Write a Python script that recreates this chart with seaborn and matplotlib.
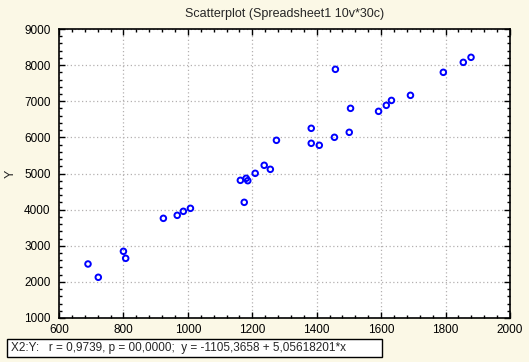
import numpy as np
import pandas as pd
import matplotlib
matplotlib.use('Agg')
import matplotlib.pyplot as plt
import seaborn as sns
from matplotlib.patches import Rectangle
from matplotlib.ticker import MultipleLocator

x_vals = [690, 722, 800, 807, 924, 967, 986, 1008, 1163, 1175, 1181, 1186, 1209, 1237,
          1256, 1275, 1383, 1383, 1408, 1455, 1458, 1501, 1505, 1592, 1616, 1632, 1691,
          1793, 1855, 1879]
y_vals = [2495, 2127, 2846, 2652, 3759, 3842, 3953, 4036, 4811, 4202, 4867, 4801, 5005, 5227,
          5116, 5919, 6251, 5836, 5781, 6002, 7884, 6140, 6804, 6721, 6887, 7023, 7164,
          7801, 8077, 8216]
title = 'Scatterplot (Spreadsheet1 10v*30c)'
stats_text = 'X2:Y:   r = 0,9739, p = 00,0000;  y = -1105,3658 + 5,05618201*x'

df = pd.DataFrame({'X2': x_vals, 'Y': y_vals})

sns.set_style('white')
plt.rcParams['font.family'] = ['Liberation Sans', 'DejaVu Sans']

bg = '#fbf8e6'
fig = plt.figure(figsize=(5.29, 3.62), dpi=100, facecolor=bg)
ax = fig.add_axes([59/529, 1 - 318/362, 451/529, 289/362])
ax.set_facecolor('white')

sns.scatterplot(data=df, x='X2', y='Y', ax=ax, marker='o', s=16,
                facecolor='none', edgecolor='#0000ff', linewidth=1.4, zorder=3)

ax.set_xlim(600, 2000)
ax.set_ylim(1000, 9000)
ax.xaxis.set_major_locator(MultipleLocator(200))
ax.xaxis.set_minor_locator(MultipleLocator(40))
ax.yaxis.set_major_locator(MultipleLocator(1000))
ax.yaxis.set_minor_locator(MultipleLocator(200))
ax.tick_params(which='both', direction='in', top=True, right=True, bottom=True, left=True,
               color='black', labelsize=8.5, labelcolor='black')
ax.tick_params(which='major', length=4, width=1)
ax.tick_params(which='minor', length=2, width=1)
ax.tick_params(axis='x', pad=4)
ax.tick_params(axis='y', pad=6)
ax.grid(True, which='major', linestyle=(0, (1, 2)), color='#b4b0b0', linewidth=0.9)
for sp in ax.spines.values():
    sp.set_color('black')
    sp.set_linewidth(1.2)

ax.set_xlabel('')
ax.set_ylabel('Y', fontsize=9)
ax.yaxis.set_label_coords(-0.093, 0.5)
ax.set_title(title, fontsize=9, pad=9)

fig.patches.append(Rectangle((7/529, 1 - 357/362), 375/529, 18/362, transform=fig.transFigure,
                             facecolor='white', edgecolor='black', linewidth=1))
fig.text(11/529, 1 - 348/362, stats_text, fontsize=8.5, va='center', ha='left')

fig.savefig('out.png', dpi=100, facecolor=bg)
